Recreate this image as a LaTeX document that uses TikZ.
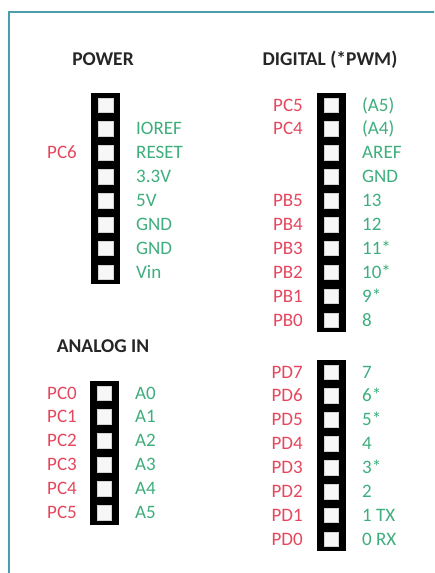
\documentclass[tikz,border=0pt]{standalone}
\usepackage{fontspec}
\setmainfont{Carlito}
\usepackage{tikz}
\usepackage{xcolor}

\definecolor{frameteal}{HTML}{4A9DAA}
\definecolor{avrred}{HTML}{E5475E}
\definecolor{ardgreen}{HTML}{3FAE7E}
\definecolor{titlegray}{HTML}{262626}

\tikzset{
  title/.style={font=\fontsize{19.5}{22}\selectfont\bfseries, text=titlegray, inner sep=0pt, anchor=base},
  avrlbl/.style={font=\fontsize{19}{22}\selectfont, text=avrred, inner sep=0pt, anchor=base east},
  ardlbl/.style={font=\fontsize{19}{22}\selectfont, text=ardgreen, inner sep=0pt, anchor=base west},
  pinhole/.style={draw=gray!35, fill=gray!6, minimum size=14.5pt, inner sep=0pt}
}

% name, x, y of first pin, number of pins
\newcommand{\pinstrip}[4]{%
  \fill[black] ({#2-14.5},{#3-12}) rectangle ({#2+14.5},{#3+(#4-1)*23.9+12});
  \foreach \k in {1,...,#4}
    \node[pinhole] (#1-\k) at (#2,{#3+(\k-1)*23.9}) {};
}

\begin{document}
\begin{tikzpicture}[x=1pt,y=-1pt,declare function={rowy(\s,\k)=\s+(\k-1)*23.9+6;}]
\useasboundingbox (0,0) rectangle (434,573);
\fill[white] (0,0) rectangle (434,573);
\clip (0,0) rectangle (434,573);
\draw[frameteal, line width=2pt] (440,12) -- (9,12) -- (9,580);

% titles
\node[title] (powertitle) at (103,{59+6.2}) {POWER};
\node[title] (digitaltitle) at (330,{59+6.2}) {DIGITAL (*PWM)};
\node[title] (analogtitle) at (103,{346+6.2}) {ANALOG IN};

% power header
\pinstrip{pw}{105.5}{105}{8}
\foreach \i/\t in {2/IOREF,3/RESET,4/3.3V,5/5V,6/GND,7/GND,8/Vin}
  \node[ardlbl] (pw-\i-ard) at (136,{rowy(105,\i)}) {\t};
\node[avrlbl] (pw-3-avr) at (77,{rowy(105,3)}) {PC6};

% digital header, upper
\pinstrip{dh}{331}{105}{10}
\foreach \i/\t in {1/{(A5)},2/{(A4)},3/AREF,4/GND,5/13,6/12,7/11*,8/10*,9/9*,10/8}
  \node[ardlbl] (dh-\i-ard) at (362,{rowy(105,\i)}) {\t};
\foreach \i/\t in {1/PC5,2/PC4,5/PB5,6/PB4,7/PB3,8/PB2,9/PB1,10/PB0}
  \node[avrlbl] (dh-\i-avr) at (303,{rowy(105,\i)}) {\t};

% digital header, lower
\pinstrip{dl}{331}{372}{8}
\foreach \i/\t in {1/7,2/6*,3/5*,4/4,5/3*,6/2,7/1 TX,8/0 RX}
  \node[ardlbl] (dl-\i-ard) at (362,{rowy(372,\i)}) {\t};
\foreach \i/\t in {1/PD7,2/PD6,3/PD5,4/PD4,5/PD3,6/PD2,7/PD1,8/PD0}
  \node[avrlbl] (dl-\i-avr) at (303,{rowy(372,\i)}) {\t};

% analog header
\pinstrip{an}{104}{393}{6}
\foreach \i in {1,...,6}{
  \pgfmathtruncatemacro{\n}{\i-1}
  \node[ardlbl] (an-\i-ard) at (135,{rowy(393,\i)}) {A\n};
  \node[avrlbl] (an-\i-avr) at (77,{rowy(393,\i)}) {PC\n};
}
\end{tikzpicture}
\end{document}
